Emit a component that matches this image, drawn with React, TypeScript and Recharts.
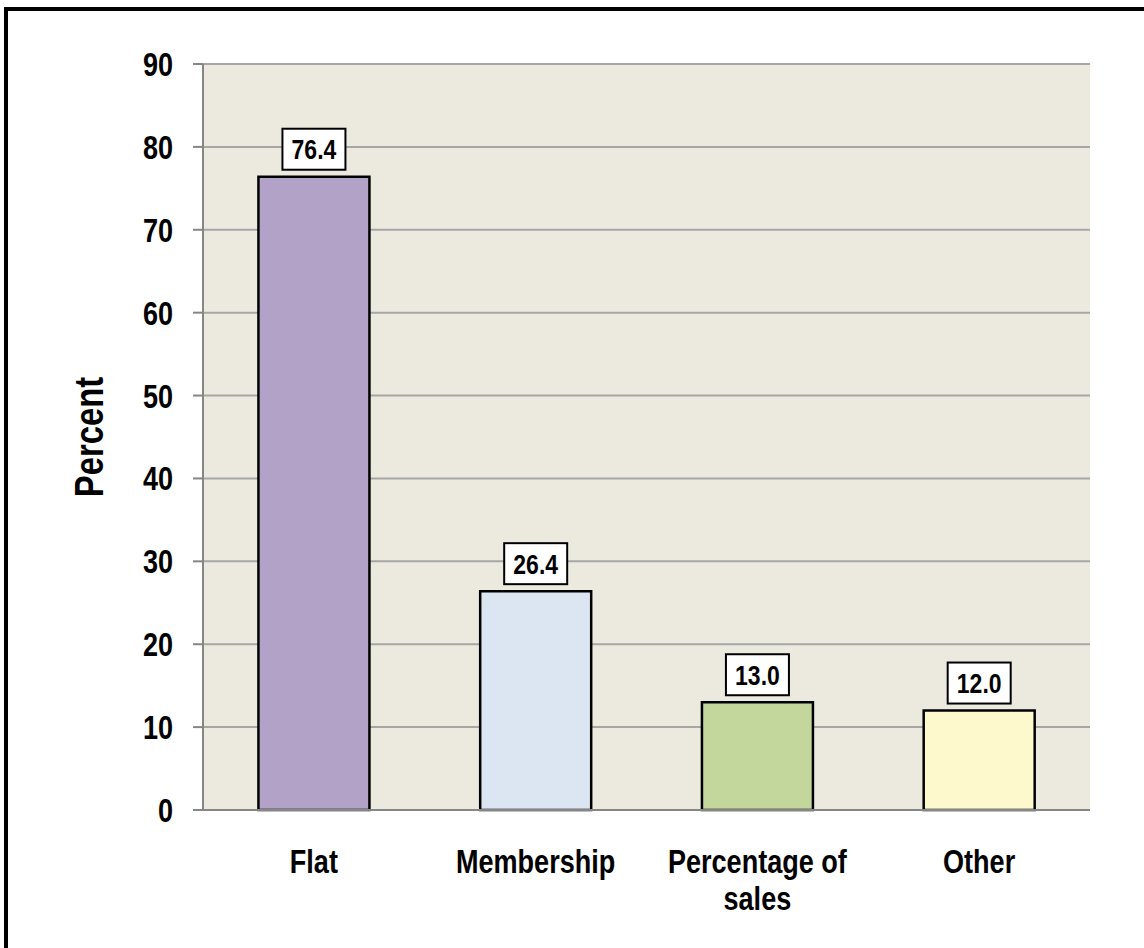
import React from "react";
import {
  BarChart,
  Bar,
  XAxis,
  YAxis,
  CartesianGrid,
  Cell,
  LabelList,
  ReferenceLine,
} from "recharts";

const categories = ["Flat", "Membership", "Percentage of sales", "Other"];
const values = [76.4, 26.4, 13.0, 12.0];
const barColors = ["#B3A2C7", "#DCE6F2", "#C3D69B", "#FDF9CD"];
const yTicks = [0, 10, 20, 30, 40, 50, 60, 70, 80, 90];
const edgeTicks = [0, 1, 2, 3, 4];

// no Arial Narrow here, so squeeze Liberation Sans horizontally
const FONT = '"Liberation Sans", Arial, sans-serif';
const NARROW = 0.82;
const AXIS_GRAY = "#868686";

const data = categories.map((name, i) => ({ name, value: values[i] }));

function splitLabel(s: string): string[] {
  if (s.length <= 12) return [s];
  const idx = s.lastIndexOf(" ");
  return [s.slice(0, idx), s.slice(idx + 1)];
}

const NarrowText = ({ x, y, size, anchor = "middle", rotate = 0, children }: any) => (
  <text
    transform={`translate(${x},${y}) rotate(${rotate}) scale(${NARROW},1)`}
    textAnchor={anchor}
    fontFamily={FONT}
    fontWeight="bold"
    fontSize={size}
    fill="#000"
  >
    {children}
  </text>
);

const XTick = (props: any) => {
  const { x, y, payload } = props;
  const lines = splitLabel(String(payload.value));
  return (
    <g>
      {lines.map((line, i) => (
        <NarrowText key={i} x={x} y={y + 63 + i * 37} size={33}>
          {line}
        </NarrowText>
      ))}
    </g>
  );
};

const YTick = (props: any) => {
  const { x, y, payload } = props;
  return (
    <NarrowText x={x} y={y + 12} size={33} anchor="end">
      {payload.value}
    </NarrowText>
  );
};

const ValueBox = (props: any) => {
  const { x, y, width, value } = props;
  const cx = x + width / 2;
  const bw = 63;
  const bh = 41;
  const top = y - 7 - bh;
  return (
    <g>
      <rect x={cx - bw / 2} y={top} width={bw} height={bh} fill="#fff" stroke="#000" strokeWidth={2} />
      <NarrowText x={cx} y={top + bh / 2 + 10} size={28}>
        {Number(value).toFixed(1)}
      </NarrowText>
    </g>
  );
};

const YLabel = (props: any) => {
  const { viewBox } = props;
  return (
    <NarrowText x={viewBox.x + 103} y={viewBox.y + viewBox.height / 2} size={40} rotate={-90}>
      Percent
    </NarrowText>
  );
};

export default function App() {
  return (
    <div
      style={{
        position: "absolute",
        left: 0,
        top: 0,
        width: 1144,
        height: 948,
        background: "#fff",
        overflow: "hidden",
      }}
    >
      <div
        style={{
          position: "absolute",
          left: 4,
          top: 7,
          width: 1150,
          height: 950,
          borderLeft: "4px solid #000",
          borderTop: "4px solid #000",
        }}
      />
      <div style={{ position: "absolute", left: 0, top: 0 }}>
        <BarChart
          width={1144}
          height={948}
          data={data}
          margin={{ top: 64, right: 54, bottom: 38, left: 0 }}
          barCategoryGap="25%"
        >
          <CartesianGrid
            vertical={false}
            fill="#ECEADF"
            stroke="#A6A6A6"
            strokeWidth={2}
            xAxisId="cat"
          />
          <XAxis
            xAxisId="edge"
            type="number"
            domain={[0, 4]}
            ticks={edgeTicks}
            allowDataOverflow
            height={0}
            axisLine={false}
            tick={false}
            tickSize={10}
            tickLine={{ stroke: AXIS_GRAY, strokeWidth: 2 }}
          />
          <XAxis
            xAxisId="cat"
            dataKey="name"
            height={100}
            interval={0}
            tickLine={false}
            tickSize={0}
            tickMargin={0}
            axisLine={{ stroke: AXIS_GRAY, strokeWidth: 2 }}
            tick={<XTick />}
          />
          <YAxis
            width={203}
            domain={[0, 90]}
            ticks={yTicks}
            interval={0}
            tickSize={10}
            tickMargin={20}
            axisLine={{ stroke: AXIS_GRAY, strokeWidth: 2 }}
            tickLine={{ stroke: AXIS_GRAY, strokeWidth: 2 }}
            tick={<YTick />}
            label={<YLabel />}
          />
          <ReferenceLine xAxisId="edge" x={4} stroke={AXIS_GRAY} strokeWidth={2} />
          <Bar
            xAxisId="cat"
            dataKey="value"
            stroke="#000"
            strokeWidth={2.5}
            isAnimationActive={false}
          >
            {data.map((d, i) => (
              <Cell key={d.name} fill={barColors[i]} />
            ))}
            <LabelList dataKey="value" content={<ValueBox />} />
          </Bar>
        </BarChart>
      </div>
    </div>
  );
}
